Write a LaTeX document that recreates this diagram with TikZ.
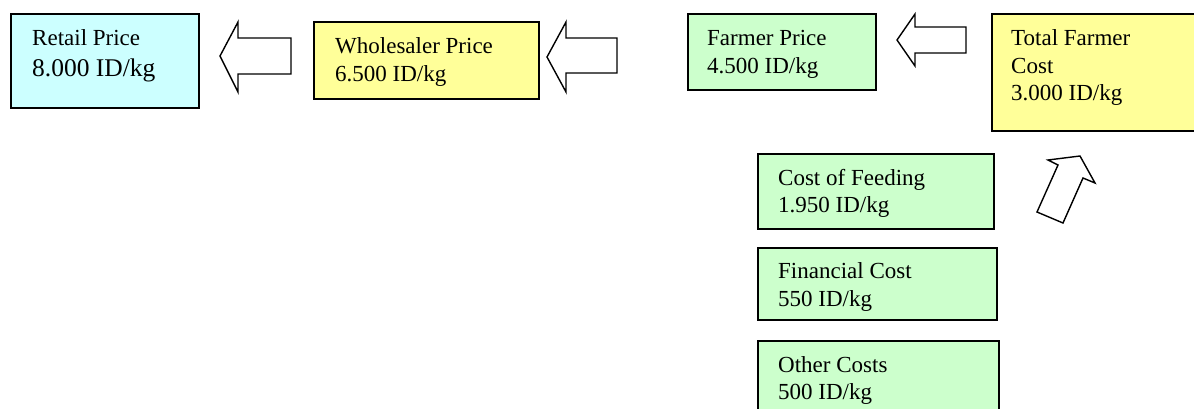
\documentclass[tikz,border=0pt]{standalone}
\usepackage{fontspec}
\setmainfont{Liberation Serif}
\begin{document}
\begin{tikzpicture}[x=1pt,y=-1pt,
  box/.style={draw=black, line width=1.6pt, anchor=north west, inner sep=0pt},
  cyanbox/.style={box, fill={rgb,255:red,204;green,255;blue,255}},
  yellowbox/.style={box, fill={rgb,255:red,255;green,255;blue,153}},
  greenbox/.style={box, fill={rgb,255:red,204;green,255;blue,204}},
  txt/.style={anchor=base west, inner sep=0pt, font=\fontsize{23}{27}\selectfont},
  bigtxt/.style={anchor=base west, inner sep=0pt, font=\fontsize{25.5}{30}\selectfont},
  blockarrow/.style={draw=black, fill=white, line width=1.4pt, line join=miter}]
\useasboundingbox (0,0) rectangle (1194,408);
\clip (0,0) rectangle (1194,408);
% boxes
\node[cyanbox, minimum width=188pt, minimum height=94pt] (retail) at (10,13) {};
\node[yellowbox, minimum width=225pt, minimum height=77pt] (whole) at (313,21) {};
\node[greenbox, minimum width=188pt, minimum height=76pt] (farmer) at (687,13) {};
\node[yellowbox, minimum width=215pt, minimum height=117pt] (total) at (991,13) {};
\node[greenbox, minimum width=236pt, minimum height=75pt] (feed) at (757,153) {};
\node[greenbox, minimum width=239pt, minimum height=72pt] (fin) at (757,247) {};
\node[greenbox, minimum width=241pt, minimum height=80pt] (other) at (757,340) {};
% texts
\node[txt] (retail1) at (32,45) {Retail Price};
\node[bigtxt] (retail2) at (32,76) {8.000 ID/kg};
\node[txt] (whole1) at (335,53) {Wholesaler Price};
\node[txt] (whole2) at (335,81) {6.500 ID/kg};
\node[txt] (farmer1) at (707,45) {Farmer Price};
\node[txt] (farmer2) at (707,73) {4.500 ID/kg};
\node[txt] (total1) at (1011,45) {Total Farmer};
\node[txt] (total2) at (1011,73) {Cost};
\node[txt] (total3) at (1011,100) {3.000 ID/kg};
\node[txt] (feed1) at (778,185) {Cost of Feeding};
\node[txt] (feed2) at (778,212) {1.950 ID/kg};
\node[txt] (fin1) at (778,278) {Financial Cost};
\node[txt] (fin2) at (778,306) {550 ID/kg};
\node[txt] (other1) at (778,372) {Other Costs};
\node[txt] (other2) at (778,399) {500 ID/kg};
% block arrows
\draw[blockarrow] (220,56) -- (238,22) -- (238,38) -- (291,38) -- (291,74) -- (238,74) -- (238,92) -- cycle;
\draw[blockarrow] (547,57) -- (566,22) -- (566,38) -- (617,38) -- (617,73) -- (566,73) -- (566,92) -- cycle;
\draw[blockarrow] (897,40) -- (915,14) -- (915,27) -- (966,27) -- (966,53) -- (915,53) -- (915,66) -- cycle;
\draw[blockarrow] (1080,156) -- (1095,183) -- (1083,178) -- (1063,223) -- (1037,212) -- (1058,165) -- (1048,160) -- cycle;
\end{tikzpicture}
\end{document}
